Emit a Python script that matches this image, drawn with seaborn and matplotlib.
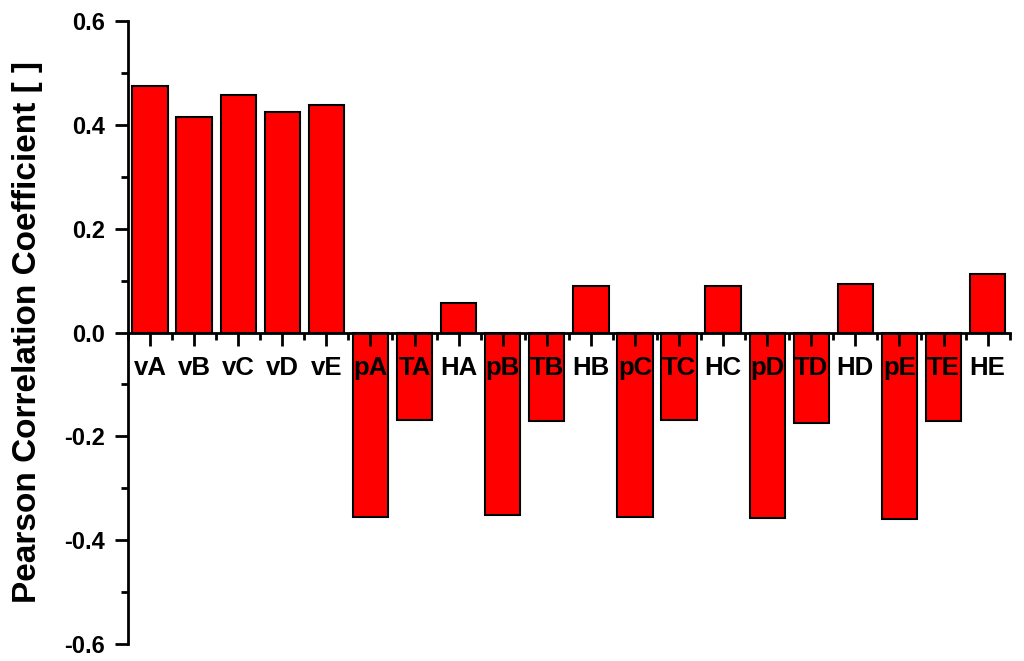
import matplotlib
matplotlib.use("Agg")
import matplotlib.pyplot as plt
import seaborn as sns
from matplotlib.ticker import MultipleLocator, FixedLocator

# data
categories = ["vA", "vB", "vC", "vD", "vE",
              "pA", "TA", "HA", "pB", "TB", "HB",
              "pC", "TC", "HC", "pD", "TD", "HD",
              "pE", "TE", "HE"]
pearson = [0.475, 0.416, 0.458, 0.425, 0.438,
           -0.356, -0.169, 0.056, -0.352, -0.171, 0.089,
           -0.356, -0.169, 0.089, -0.358, -0.175, 0.094,
           -0.360, -0.171, 0.113]
y_ticks = [-0.6, -0.4, -0.2, 0.0, 0.2, 0.4, 0.6]
y_ticklabels = ["-0.6", "-0.4", "-0.2", "0.0", "0.2", "0.4", "0.6"]

sns.set_style("ticks")
plt.rcParams["font.family"] = ["Liberation Sans", "DejaVu Sans"]
plt.rcParams["font.weight"] = "bold"
plt.rcParams["text.color"] = "black"
plt.rcParams["xtick.color"] = "black"
plt.rcParams["ytick.color"] = "black"
plt.rcParams["xtick.labelcolor"] = "black"
plt.rcParams["ytick.labelcolor"] = "black"

fig = plt.figure(figsize=(10.24, 6.61), dpi=100)
ax = fig.add_axes([0.125, 0.0257, 0.861, 0.9425])

sns.barplot(x=categories, y=pearson, color="#ff0000", saturation=1,
            edgecolor="black", linewidth=1.5, width=0.8, ax=ax)

ax.set_xlim(-0.5, len(categories) - 0.5)
ax.set_ylim(-0.6, 0.6)
# tick labels drawn on top of the bars
ax.set_axisbelow(False)

# x axis sits at zero, only left spine shown
ax.spines["bottom"].set_position(("data", 0))
ax.spines["top"].set_visible(False)
ax.spines["right"].set_visible(False)
for s in ["left", "bottom"]:
    ax.spines[s].set_linewidth(2)
    ax.spines[s].set_color("black")

ax.set_yticks(y_ticks)
ax.set_yticklabels(y_ticklabels)
ax.yaxis.set_minor_locator(MultipleLocator(0.1))
ax.xaxis.set_minor_locator(FixedLocator([i - 0.5 for i in range(len(categories) + 1)]))

ax.tick_params(axis="both", which="major", direction="out", length=9.5, width=2, color="black")
ax.tick_params(axis="both", which="minor", direction="out", length=5, width=2, color="black")
ax.tick_params(axis="y", labelsize=17, pad=7)
ax.tick_params(axis="x", labelsize=18.5, pad=7.5)
for lab in ax.get_xticklabels() + ax.get_yticklabels():
    lab.set_fontweight("bold")
    lab.set_color("black")

ax.set_xlabel("")
ax.set_ylabel("")
fig.text(28 / 1024, 0.497, "Pearson Correlation Coefficient [ ]", rotation=90,
         ha="center", va="center", fontsize=24, fontweight="bold", color="black")

fig.savefig("out.png", dpi=100, facecolor="white")
